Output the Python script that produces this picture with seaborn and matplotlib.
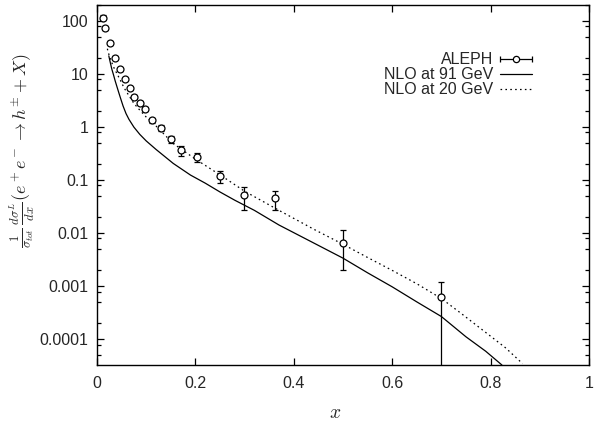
import numpy as np
import pandas as pd
import matplotlib
matplotlib.use("Agg")
import matplotlib.pyplot as plt
import seaborn as sns
from matplotlib.ticker import FixedLocator, FuncFormatter, NullLocator, LogLocator
from matplotlib.legend_handler import HandlerErrorbar
from matplotlib.lines import Line2D

# ALEPH data
aleph_x = [0.0116, 0.0168, 0.026, 0.0365, 0.0467, 0.057, 0.067, 0.076, 0.087, 0.097,
           0.111, 0.130, 0.150, 0.170, 0.203, 0.251, 0.299, 0.362, 0.4996, 0.699]
aleph_y = [116, 74, 39, 20.5, 12.2, 7.9, 5.4, 3.7, 2.87, 2.2,
           1.35, 0.96, 0.59, 0.37, 0.276, 0.119, 0.052, 0.047, 0.0067, 0.00063]
aleph_err_lo = [12, 6, 3, 1.6, 1.0, 0.6, 0.4, 0.3, 0.23, 0.18,
                0.13, 0.12, 0.09, 0.08, 0.055, 0.030, 0.024, 0.019, 0.0047, 0.000629]
aleph_err_hi = [12, 6, 3, 1.6, 1.0, 0.6, 0.4, 0.3, 0.23, 0.18,
                0.13, 0.12, 0.09, 0.08, 0.055, 0.030, 0.023, 0.016, 0.0046, 0.00059]

# NLO at 91 GeV (solid)
nlo91_x = [0.024, 0.027, 0.03, 0.0335, 0.037, 0.041, 0.045, 0.049, 0.053, 0.059, 0.065,
           0.075, 0.087, 0.10, 0.12, 0.155, 0.19, 0.22, 0.25, 0.28, 0.32,
           0.37, 0.44, 0.50, 0.55, 0.60, 0.65, 0.70, 0.75, 0.79, 0.823]
nlo91_y = [22, 16.5, 12.5, 9.7, 7.4, 5.6, 4.25, 3.25, 2.5, 1.8, 1.4,
           1.0, 0.73, 0.55, 0.38, 0.207, 0.125, 0.088, 0.060, 0.042, 0.027,
           0.0143, 0.0066, 0.0034, 0.0018, 0.00098, 0.00051, 0.00027, 0.000112, 0.00006, 0.000033]

# NLO at 20 GeV (dotted)
nlo20_x = [0.021, 0.025, 0.03, 0.035, 0.041, 0.047, 0.055, 0.065, 0.075, 0.087, 0.10,
           0.12, 0.155, 0.2, 0.256, 0.30, 0.37, 0.44, 0.50, 0.55, 0.60, 0.65, 0.70,
           0.74, 0.78, 0.83, 0.865]
nlo20_y = [30, 22, 16.5, 12.8, 10.0, 7.8, 5.5, 3.9, 2.8, 2.09, 1.55,
           1.05, 0.49, 0.25, 0.116, 0.062, 0.027, 0.012, 0.0062, 0.0035, 0.0020, 0.00112, 0.00059,
           0.00031, 0.00016, 0.00007, 0.000035]

x_ticks = [0, 0.2, 0.4, 0.6, 0.8, 1.0]
y_ticks = [1e-4, 1e-3, 1e-2, 1e-1, 1, 10, 100]
legend_labels = ["ALEPH", "NLO at 91 GeV", "NLO at 20 GeV"]

sns.set_theme(style="ticks")
plt.rcParams["font.family"] = ["Liberation Sans", "DejaVu Sans"]
plt.rcParams["mathtext.fontset"] = "cm"

fig = plt.figure(figsize=(6.03, 4.26), dpi=100)
ax = fig.add_axes([97/603, 61/426, 492/603, 360/426])

dotted = (0, (1.3, 2.6))
df91 = pd.DataFrame({"x": nlo91_x, "y": nlo91_y})
df20 = pd.DataFrame({"x": nlo20_x, "y": nlo20_y})
sns.lineplot(data=df91, x="x", y="y", ax=ax, color="black", lw=0.9, sort=False)
sns.lineplot(data=df20, x="x", y="y", ax=ax, color="black", lw=0.9, sort=False,
             linestyle=dotted)

ax.errorbar(aleph_x, aleph_y, yerr=[aleph_err_lo, aleph_err_hi], fmt="o",
            color="black", mfc="white", mec="black", ms=5, mew=0.9,
            elinewidth=0.9, capsize=2.5, capthick=0.9, zorder=3)

ax.set_yscale("log")
ax.set_xlim(0, 1)
ax.set_ylim(3.3e-5, 200)

ax.xaxis.set_major_locator(FixedLocator(x_ticks))
ax.xaxis.set_minor_locator(NullLocator())
ax.xaxis.set_major_formatter(FuncFormatter(lambda v, p: "%g" % v))
ax.yaxis.set_major_locator(FixedLocator(y_ticks))
ax.yaxis.set_minor_locator(LogLocator(base=10, subs=(2, 5, 8)))
ax.yaxis.set_major_formatter(FuncFormatter(lambda v, p: "%g" % v))
ax.yaxis.set_minor_formatter(FuncFormatter(lambda v, p: ""))

ax.tick_params(which="both", direction="in", top=True, right=True, color="black",
               width=0.9)
ax.tick_params(which="major", length=5, labelsize=11.5)
ax.tick_params(axis="y", which="major", pad=6)
ax.tick_params(axis="x", which="major", pad=8)
ax.tick_params(which="minor", length=2.8)
for s in ax.spines.values():
    s.set_linewidth(1.0)
    s.set_color("black")

ax.set_xlabel(r"$x$", fontsize=14)
ax.xaxis.set_label_coords(0.484, -0.112)
ax.set_ylabel(r"$\frac{1}{\sigma_{tot}}\,\frac{d\sigma^L}{dx}(e^+e^- \rightarrow h^{\pm} + X)$",
              fontsize=13)
ax.yaxis.set_label_coords(-0.122, 0.594)

# legend handles
h_al = ax.errorbar([np.nan], [np.nan], xerr=[[1], [1]], fmt="o", color="black",
                   mfc="white", mec="black", ms=4.5, mew=0.9, elinewidth=0.9,
                   capsize=2.5, capthick=0.9)
h91 = Line2D([], [], color="black", lw=0.9)
h20 = Line2D([], [], color="black", lw=0.9, linestyle=dotted)
ax.legend([h_al, h91, h20], legend_labels, loc="upper right",
          bbox_to_anchor=(0.884, 0.869), frameon=False, markerfirst=False,
          fontsize=11.5, handlelength=2.0, handletextpad=0.45, labelspacing=0.0,
          borderpad=0, borderaxespad=0,
          handler_map={h_al: HandlerErrorbar(xerr_size=1.0)})

fig.savefig("out.png", dpi=100)
